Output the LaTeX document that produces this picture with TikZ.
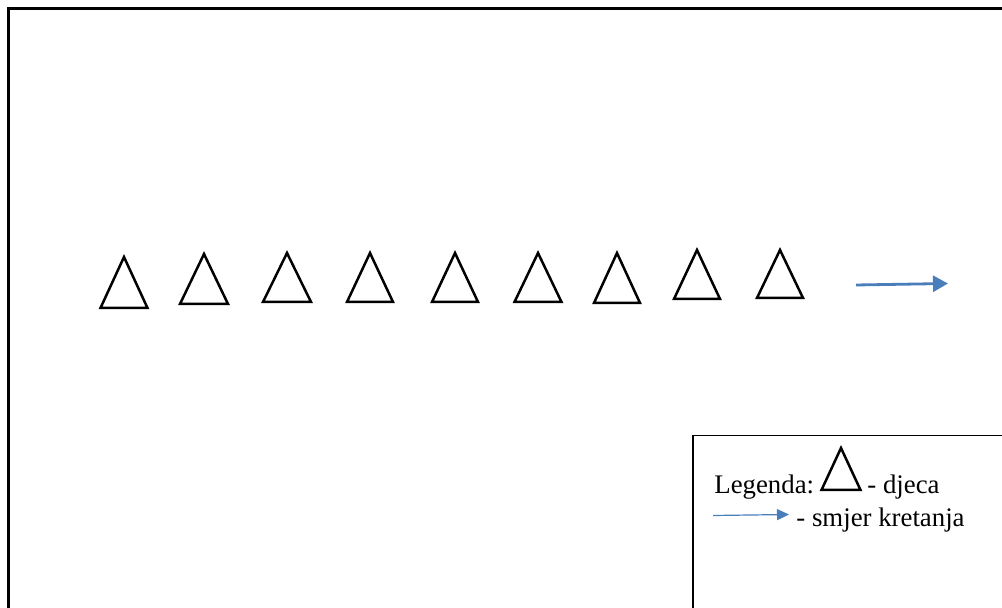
\documentclass[tikz,border=0pt]{standalone}
\usepackage{fontspec}
\setmainfont{Liberation Serif}
\usetikzlibrary{arrows.meta}
\definecolor{arrowblue}{HTML}{4A7EBB}
\tikzset{
  frameline/.style={draw=black, line width=1.3pt},
  legendbox/.style={draw=black, line width=0.75pt},
  childtri/.style={draw=black, line width=1.25pt},
  movearrow/.style={draw=arrowblue, line width=1.4pt, -{Triangle[length=7.5pt,width=8pt]}},
  legendarrow/.style={draw=arrowblue, line width=0.6pt, -{Triangle[length=6pt,width=5.5pt]}},
  legtext/.style={anchor=base west, inner sep=0pt, font=\fontsize{13.4}{15}\selectfont},
  pics/child/.style args={#1/#2}{code={
    \draw[childtri] (0,0) -- (-#1,#2) -- (#1,#2) -- cycle;
  }}
}
\begin{document}
\begin{tikzpicture}[x=0.5pt,y=-0.5pt]
\useasboundingbox (0,0) rectangle (1002,608);
\clip (0,0) rectangle (1002,608);
% outer frame
\draw[frameline] (8.5,620) -- (8.5,8.5) -- (1020,8.5);
% row of children
\pic at (124,257) {child={23.5/51}};
\pic at (204,254) {child={24/50}};
\pic at (287,253) {child={24/49}};
\pic at (370,253) {child={23/49}};
\pic at (455,253) {child={23/49}};
\pic at (538,253) {child={23.5/49}};
\pic at (617,253) {child={23/50}};
\pic at (697,250) {child={23/49}};
\pic at (780,250) {child={23/48}};
% direction arrow
\coordinate (a1) at (856,285);
\coordinate (a2) at (948,283.5);
\draw[movearrow] (a1) -- (a2);
% legend
\draw[legendbox] (693,620) -- (693,435.5) -- (1020,435.5);
\node[legtext] (leg) at (714,494) {Legenda:};
\pic at (841,448) {child={19.5/42}};
\node[legtext] (djeca) at (867,494) {- djeca};
\coordinate (l1) at (713,515.5);
\coordinate (l2) at (789,514.5);
\draw[legendarrow] (l1) -- (l2);
\node[legtext] (smjer) at (796,527) {- smjer kretanja};
\end{tikzpicture}
\end{document}
